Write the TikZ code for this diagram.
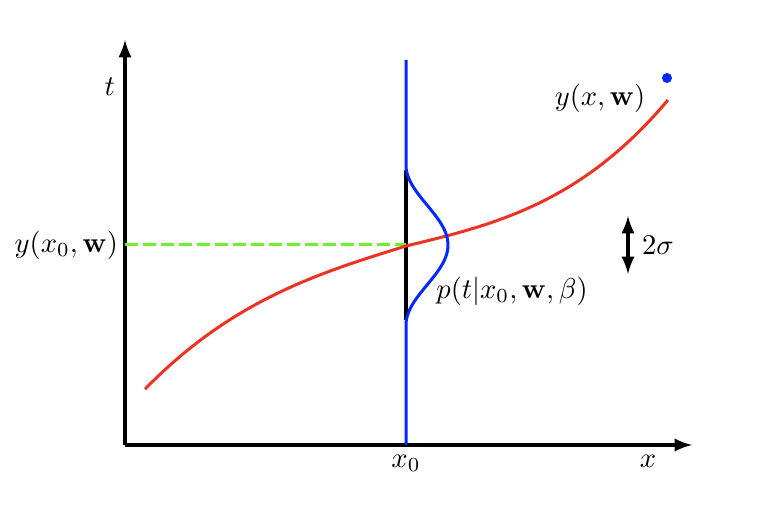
\documentclass[tikz,border=0pt]{standalone}
\usepackage{amsmath}
\usepackage{bm}
\usepackage{xcolor}
\usepackage{tikz}
\usetikzlibrary{arrows}
\usetikzlibrary{positioning}

\definecolor{curvered}{RGB}{235,50,35}
\definecolor{gaussblue}{RGB}{0,40,255}
\definecolor{meangreen}{RGB}{110,240,50}

\begin{document}
\begin{tikzpicture}[x=0.35pt, y=-0.35pt, axis/.style={line width=1.1pt, -latex}, curve/.style={line width=1.05pt}]
		\useasboundingbox (0,0) rectangle (762,506);
		\coordinate (origin) at (125,445);
		\coordinate (t end) at (125,40);
		\coordinate (x end) at (692,445);
		\coordinate (x0 top) at (406,60);
		\coordinate (x0 bottom) at (406,445);
		\coordinate (mean) at (406,245);
		\coordinate (sigma top) at (628,216);
		\coordinate (sigma bottom) at (628,274);
		
		\node[left=0pt] (t label) at (125,87) {$t$};
		\node[left=0pt] (mean label) at (128,245) {$y(x_0,\mathbf{w})$};
		\node (curve label) at (600,98) {$y(x,\mathbf{w})$};
		\node[right=0pt] (sigma label) at (632,245) {$2\sigma$};
		\node (dist label) at (512,291) {$p(t|x_0,\mathbf{w},\beta)$};
		\node (x0 label) at (406,463) {$x_0$};
		\node (x label) at (648,461) {$x$};
		
		\draw[axis] (origin)--(t end);
		\draw[axis] (origin)--(x end);
		\draw[line width=1.1pt] (406,170)--(406,320);
		\draw[meangreen, curve, dash pattern=on 4.4pt off 1.9pt] (origin|-mean)--(mean);
		\draw[curvered, curve] plot[domain=2.61:0, samples=60] ({406-100*\x}, {246+31*\x+3.5*\x*\x*\x})
			--plot[domain=0:2.62, samples=60] ({406+100*\x}, {246-24.1*\x-4.61*\x*\x*\x});
		\draw[gaussblue, curve] (x0 top)--(406,165)--plot[domain=-80:80, samples=80] ({406+21*(1+cos(180*\x/80))}, {245+\x})--(x0 bottom);
		\fill[gaussblue] (667,78) circle (5);
		\draw[line width=1.1pt, latex-latex] (sigma top)--(sigma bottom);
	\end{tikzpicture}
\end{document}
